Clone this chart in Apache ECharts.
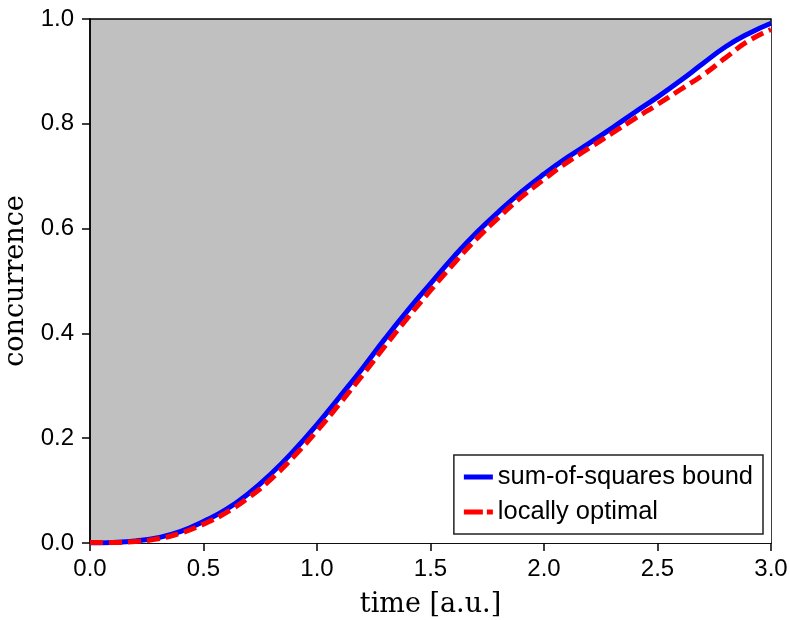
<!DOCTYPE html>
<html>
<head>
<meta charset="utf-8">
<script src="https://cdn.jsdelivr.net/npm/echarts@6/dist/echarts.min.js"></script>
<style>html,body{margin:0;padding:0;background:#fff}#c{width:790px;height:620px}</style>
</head>
<body>
<div id="c"></div>
<script>
const times = [0.0,0.1,0.2,0.3,0.4,0.5,0.6,0.7,0.8,0.9,1.0,1.1,1.2,1.3,1.4,1.5,1.6,1.7,1.8,1.9,2.0,2.1,2.2,2.3,2.4,2.5,2.6,2.7,2.8,2.9,3.0];
const sosBound = [0.000,0.001,0.004,0.010,0.022,0.041,0.064,0.095,0.133,0.177,0.226,0.279,0.333,0.390,0.444,0.495,0.545,0.591,0.632,0.670,0.704,0.735,0.763,0.792,0.822,0.851,0.882,0.915,0.947,0.972,0.992];
const locOpt = [0.001,0.001,0.003,0.008,0.019,0.036,0.058,0.087,0.123,0.166,0.214,0.266,0.320,0.376,0.430,0.482,0.532,0.579,0.621,0.660,0.694,0.726,0.754,0.782,0.810,0.837,0.865,0.893,0.926,0.958,0.980];
const xTicks = [0.0,0.5,1.0,1.5,2.0,2.5,3.0];
const yTicks = [0.0,0.2,0.4,0.6,0.8,1.0];

const chart = echarts.init(document.getElementById('c'));
const pair = (xs, ys) => xs.map((x, i) => [x, ys[i]]);
chart.setOption({
  animation: false,
  grid: {left: 90, right: 19, top: 19, bottom: 77, containLabel: false, outerBoundsMode: 'none',
         show: true, backgroundColor: '#c0c0c0', borderColor: '#000', borderWidth: 1.5},
  xAxis: {
    type: 'value', min: 0, max: 3, interval: 0.5,
    name: 'time [a.u.]', nameLocation: 'middle', nameGap: 48,
    nameTextStyle: {fontFamily: 'DejaVu Serif', fontSize: 27, color: '#000'},
    axisLine: {lineStyle: {color: '#000', width: 1.5}},
    axisTick: {inside: false, length: 8, lineStyle: {color: '#000', width: 1.5}},
    axisLabel: {fontFamily: 'Liberation Sans', fontSize: 24, color: '#000', margin: 14, formatter: v => v.toFixed(1)},
    splitLine: {show: false}
  },
  yAxis: {
    type: 'value', min: 0, max: 1, interval: 0.2,
    name: 'concurrence', nameLocation: 'middle', nameGap: 58, nameRotate: 90,
    nameTextStyle: {fontFamily: 'DejaVu Serif', fontSize: 27, color: '#000'},
    axisLine: {lineStyle: {color: '#000', width: 1.5}},
    axisTick: {inside: false, length: 8, lineStyle: {color: '#000', width: 1.5}},
    axisLabel: {fontFamily: 'Liberation Sans', fontSize: 24, color: '#000', margin: 16, formatter: v => v.toFixed(1)},
    splitLine: {show: false}
  },
  legend: {
    right: 27, bottom: 86, orient: 'vertical',
    backgroundColor: '#fff', borderColor: '#222', borderWidth: 1.5, borderRadius: 0,
    padding: [9, 10, 9, 10], itemGap: 9, itemWidth: 29, itemHeight: 5,
    textStyle: {fontFamily: 'Liberation Sans', fontSize: 25.5, color: '#000'},
    data: [
      {name: 'sum-of-squares bound', icon: 'rect', itemStyle: {color: '#0000ff'}},
      {name: 'locally optimal', icon: 'path://M0,0H19V5H0Z M23,0H29V5H23Z', itemStyle: {color: '#ff0000'}}
    ]
  },
  series: [
    {
      name: 'sum-of-squares bound', type: 'line', data: pair(times, sosBound), smooth: true,
      showSymbol: false, symbol: 'none', z: 2,
      lineStyle: {color: '#0000ff', width: 5},
      itemStyle: {color: '#0000ff'},
      areaStyle: {color: '#ffffff', opacity: 1}
    },
    {
      name: 'locally optimal', type: 'line', data: pair(times, locOpt), smooth: true,
      showSymbol: false, symbol: 'none', z: 3,
      lineStyle: {color: '#ff0000', width: 5, type: [13, 6]},
      itemStyle: {color: '#ff0000'}
    }
  ]
});
</script>
</body>
</html>
